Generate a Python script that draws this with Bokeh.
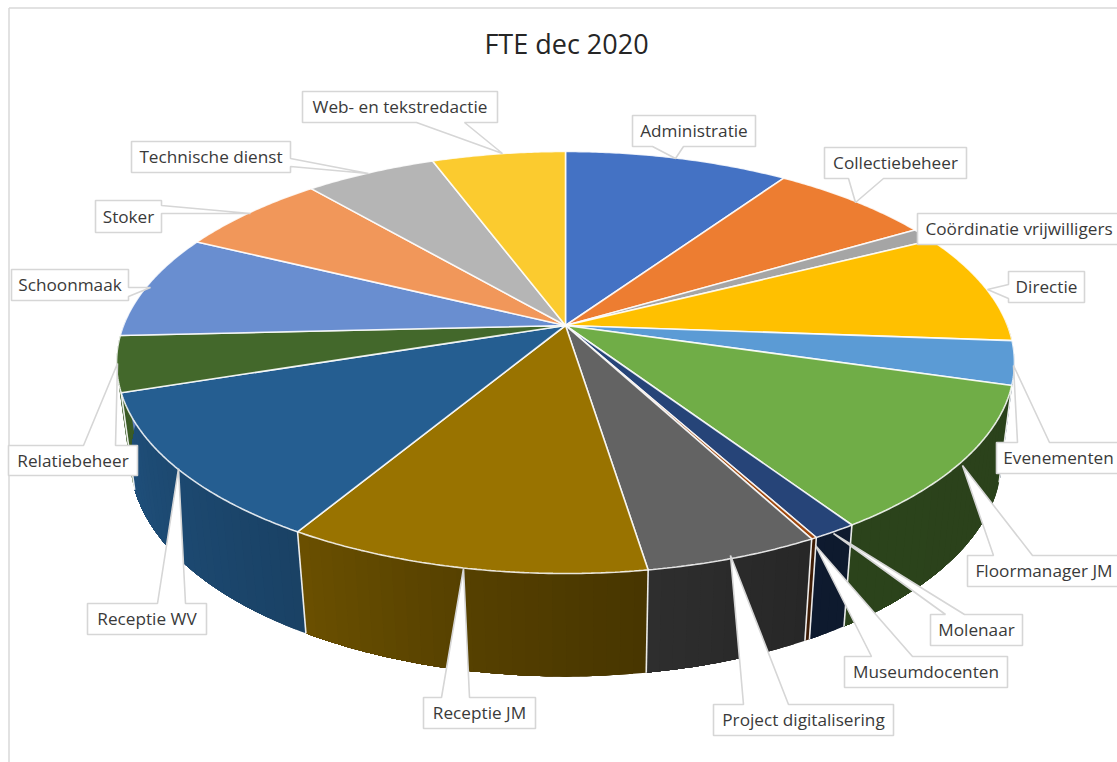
import numpy as np
from bokeh.plotting import figure
from bokeh.core.properties import value
from bokeh.embed import file_html
from bokeh.resources import INLINE

# ---- data -------------------------------------------------------------
title = "FTE dec 2020"
categories = ["Administratie", "Collectiebeheer", "Coördinatie vrijwilligers", "Directie",
              "Evenementen", "Floormanager JM", "Molenaar", "Museumdocenten",
              "Project digitalisering", "Receptie JM", "Receptie WV", "Relatiebeheer",
              "Schoonmaak", "Stoker", "Technische dienst", "Web- en tekstredactie"]
shares = [9.56, 6.94, 1.08, 8.58, 3.33, 11.17, 1.36, 0.17, 5.33, 11.08, 11.36, 4.25,
          8.03, 6.44, 5.61, 5.69]
colors = ["#4472C4", "#ED7D31", "#A5A5A5", "#FFC000", "#5B9BD5", "#70AD47", "#264478", "#9E480E",
          "#636363", "#997300", "#255E91", "#43682B", "#698ED0", "#F1975A", "#B5B5B5", "#FBCB2F"]

# ---- layout (pixels of the page) --------------------------------------
# box: left, top, right, bottom; base1, base2: wedge base on the box edge; tip: wedge tip
callouts = {
    "Administratie": ((632, 115, 755, 146), (683, 146), (652, 146), (675, 158)),
    "Collectiebeheer": ((824, 147, 966, 178), (883, 178), (848, 178), (855, 202)),
    "Coördinatie vrijwilligers": ((917, 213, 1120, 244), None, None, None),
    "Directie": ((1008, 271, 1084, 302), (1008, 298), (1008, 284), (987, 289)),
    "Evenementen": ((996, 442, 1120, 473), (1017, 442), (1049, 442), (1013, 365)),
    "Floormanager JM": ((967, 555, 1120, 586), (993, 555), (1032, 555), (962, 465)),
    "Molenaar": ((930, 614, 1022, 645), (945, 614), (964, 614), (833, 533)),
    "Museumdocenten": ((844, 656, 1007, 687), (871, 656), (912, 656), (815, 545)),
    "Project digitalisering": ((713, 704, 893, 735), (743, 704), (788, 704), (730, 555)),
    "Receptie JM": ((423, 697, 535, 728), (441, 697), (469, 697), (463, 568)),
    "Receptie WV": ((87, 603, 206, 634), (157, 603), (185, 603), (178, 468)),
    "Relatiebeheer": ((8, 445, 137, 475), (83, 445), (115, 445), (117, 363)),
    "Schoonmaak": ((11, 269, 128, 300), (128, 296), (128, 287), (150, 287)),
    "Stoker": ((95, 200, 161, 232), (161, 213), (161, 205), (250, 213)),
    "Technische dienst": ((131, 141, 290, 172), (290, 166), (290, 158), (368, 173)),
    "Web- en tekstredactie": ((302, 91, 497, 122), (464, 122), (416, 122), (502, 153)),
}

KP = 0.1754
TOP = dict(cx=565.0, cy=325.0, R=442.0, B=204.5)
BOT = dict(cx=565.5, cy=420.0, R=429.0, B=211.0)

def proj(theta, disc):
    t = np.radians(theta)
    d = 1 + KP * np.cos(t)
    return disc["cx"] + disc["R"] * np.sin(t) / d, disc["cy"] - disc["B"] * np.cos(t) / d

def shade(hex_color, theta):
    f = np.interp(theta, [90, 150, 171, 190, 211, 251, 270], [.38, .39, .47, .56, .70, .85, .90])
    c = [int(hex_color[i:i + 2], 16) for i in (1, 3, 5)]
    return "#%02x%02x%02x" % tuple(int(v * f) for v in c)

p = figure(width=1117, height=762, x_range=(0, 1117), y_range=(762, 0),
           output_backend="svg", toolbar_location=None, min_border=0,
           outline_line_color=None, background_fill_color="white", border_fill_color="white")
p.axis.visible = False
p.grid.visible = False

# frame of the chart
p.multi_line([[8.5, 8.5], [8.5, 1117]], [[762, 7.5], [7.5, 7.5]], line_color="#d9d9d9", line_width=1.5)

edges = np.concatenate([[0], np.cumsum(shares)]) / np.sum(shares) * 360.0

# side wall: each strip runs to the end of its slice and is painted over by the next,
# so that the shading leaves no seams
xs, ys, cols = [], [], []
for i, col in enumerate(colors):
    a0, a1 = edges[i], edges[i + 1]
    lo, hi = max(a0, 88.0), min(a1, 272.0)
    if hi <= lo:
        continue
    n = max(1, int(np.ceil((hi - lo) / 1.5)))
    th = np.linspace(lo, hi, n + 1)
    arc = np.linspace(lo, hi, 2 * n + 1)
    for k in range(n):
        part = arc[2 * k:]
        x0, y0 = proj(part, TOP)
        x1, y1 = proj(part[::-1], BOT)
        xs.append(list(x0) + list(x1)); ys.append(list(y0) + list(y1))
        cols.append(shade(col, (th[k] + th[k + 1]) / 2))
p.patches(xs, ys, fill_color=cols, line_color=None)

# wall joints
jx, jy = [], []
for e in edges:
    if 95 < e < 265:
        x0, y0 = proj(e, TOP); x1, y1 = proj(e, BOT)
        jx.append([x0, x1]); jy.append([y0, y1])
p.multi_line(jx, jy, line_color="white", line_width=1.6, line_alpha=0.9)

# top face
tx, ty = [], []
for i in range(len(shares)):
    th = np.linspace(edges[i], edges[i + 1], max(3, int((edges[i + 1] - edges[i]) * 2)))
    ax, ay = proj(th, TOP)
    tx.append([TOP["cx"]] + list(ax)); ty.append([TOP["cy"]] + list(ay))
p.patches(tx, ty, fill_color=colors, line_color="white", line_width=1.6, line_alpha=0.85)

# callouts
for name in categories:
    (l, t, r, b), b1, b2, tip = callouts[name]
    vx = [l, r, r, l]; vy = [t, t, b, b]
    if tip is not None:
        # insert the wedge into the rectangle outline, on the edge it leaves from
        if b1[1] == t and b2[1] == t:
            vx = [l, b1[0], tip[0], b2[0], r, r, l]; vy = [t, t, tip[1], t, t, b, b]
        elif b1[1] == b and b2[1] == b:
            vx = [l, r, r, b1[0], tip[0], b2[0], l]; vy = [t, t, b, b, tip[1], b, b]
        elif b1[0] == r:
            vx = [l, r, b2[0], tip[0], b1[0], r, l]; vy = [t, t, b2[1], tip[1], b1[1], b, b]
        else:
            vx = [l, r, r, l, b1[0], tip[0], b2[0]]; vy = [t, t, b, b, b1[1], tip[1], b2[1]]
    p.patch(vx, vy, fill_color="white", line_color="#d6d6d6", line_width=1.6)
    p.text([(l + r) / 2], [(t + b) / 2 - 0.5], text=[name], text_align="center",
           text_baseline="middle", text_font=value("Open Sans"), text_font_size="17.2px",
           text_color="#3a3a3a")

p.text([566], [43], text=[title], text_align="center", text_baseline="middle",
       text_font=value("Open Sans"), text_font_size="27px", text_color="#262626")

open("out.html", "w").write(file_html(p, INLINE))
